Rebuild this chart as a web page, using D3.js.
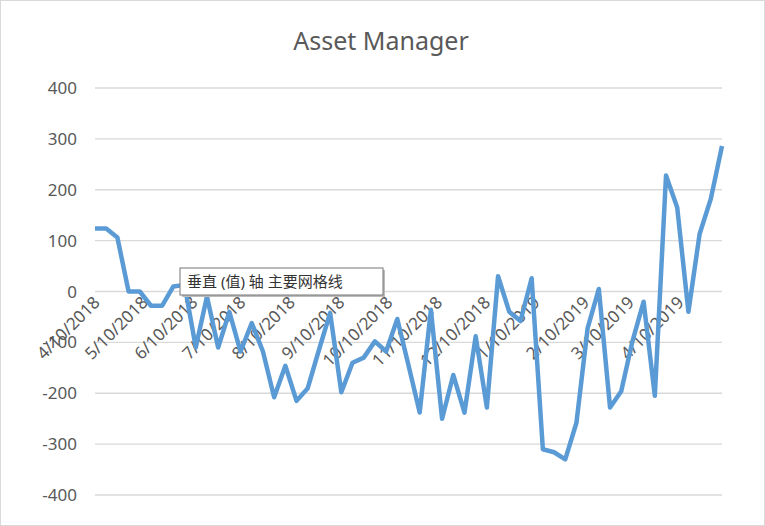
<!DOCTYPE html>
<html><head><meta charset="utf-8">
<script src="https://cdn.jsdelivr.net/npm/d3@7"></script>
<style>body{margin:0;background:#fff}text{font-family:"Noto Sans","Noto Sans CJK SC",sans-serif}</style>
</head><body><svg id="chart" width="765" height="526"></svg>
<script>
const startDate = new Date(2018, 3, 10);
const values = [124,124,106,0,0,-28,-28,10,13,-110,-10,-110,-40,-118,-62,-118,-208,-146,-215,-190,-115,-42,-198,-140,-130,-98,-118,-54,-145,-238,-36,-250,-164,-238,-88,-228,30,-40,-58,26,-310,-316,-330,-258,-72,5,-228,-196,-98,-20,-205,228,165,-40,113,182,286];
const yTicks = [-400,-300,-200,-100,0,100,200,300,400];
const monthTicks = d3.range(13).map(m => new Date(2018, 3 + m, 10));

const data = values.map((v, i) => ({ date: d3.timeDay.offset(startDate, i * 7), v }));
const svg = d3.select("#chart");
const margin = { left: 95, right: 43, top: 88, bottom: 31 };
const width = 765, height = 526;

svg.append("rect").attr("x", 0.5).attr("y", 0.5).attr("width", width - 1).attr("height", height - 1)
  .attr("fill", "#fff").attr("stroke", "#d9d9d9");

const x = d3.scaleTime().domain(d3.extent(data, d => d.date)).range([margin.left, width - margin.right]);
const y = d3.scaleLinear().domain([-400, 400]).range([height - margin.bottom, margin.top]);

svg.append("text").attr("x", 381).attr("y", 50).attr("text-anchor", "middle")
  .attr("font-size", 25).attr("fill", "#595959").text("Asset Manager");

svg.append("g").selectAll("line").data(yTicks).join("line")
  .attr("x1", margin.left).attr("x2", width - margin.right)
  .attr("y1", d => y(d)).attr("y2", d => y(d)).attr("stroke", "#d9d9d9").attr("stroke-width", 1.3);

svg.append("g").selectAll("text").data(yTicks).join("text")
  .attr("x", 77).attr("y", d => y(d) + 6).attr("text-anchor", "end")
  .attr("font-size", 17).attr("fill", "#595959").text(d => d);

svg.append("g").selectAll("text").data(monthTicks).join("text")
  .attr("transform", d => `translate(${x(d) + 6},${y(0) + 12}) rotate(-45)`)
  .attr("text-anchor", "end").attr("font-size", 17).attr("fill", "#595959")
  .text(d3.timeFormat("%-m/%-d/%Y"));

svg.append("path").datum(data)
  .attr("d", d3.line().x(d => x(d.date)).y(d => y(d.v)))
  .attr("fill", "none").attr("stroke", "#5b9bd5").attr("stroke-width", 4.5).attr("stroke-linejoin", "round");

// Excel hover tooltip
const tip = svg.append("g").attr("transform", "translate(180,268)");
tip.append("rect").attr("x", 2).attr("y", 2).attr("width", 203).attr("height", 27).attr("fill", "#bbb");
tip.append("rect").attr("width", 203).attr("height", 27).attr("fill", "#fff").attr("stroke", "#767676");
tip.append("text").attr("x", 7).attr("y", 19).attr("font-size", 15).attr("fill", "#333").text("垂直 (值) 轴 主要网格线");
</script></body></html>
